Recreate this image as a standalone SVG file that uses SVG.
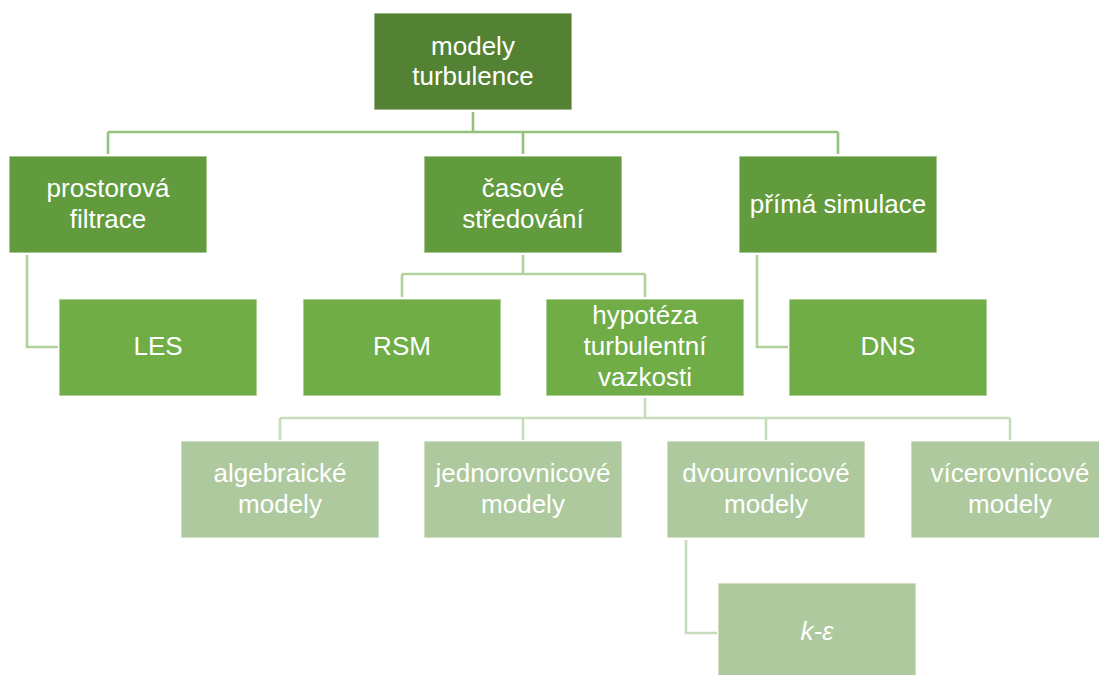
<svg xmlns="http://www.w3.org/2000/svg" width="1099" height="675" viewBox="0 0 1099 675">
<style>
.box{stroke:#ffffff;stroke-opacity:0.7;stroke-width:1.2}
.l1{fill:#548235}
.l2{fill:#629b3d}
.l3{fill:#70ad47}
.l4{fill:#adc99d}
text{font-family:"Liberation Sans",Arial,sans-serif;font-size:26px;fill:#ffffff;text-anchor:middle}
.c1{fill:none;stroke:#93c37a;stroke-width:2.6}
.c2{fill:none;stroke:#b0d29e;stroke-width:2.6}
.c3{fill:none;stroke:#c7dcba;stroke-width:2.6}
</style>
<g id="connectors">
<path class="c1" d="M473,112 V132 M108,132 H838 M108,132 V154 M523,132 V154 M838,132 V154"/>
<path class="c2" d="M27,255 V347 H58"/>
<path class="c2" d="M523,255 V274 M402,274 H645 M402,274 V297 M645,274 V297"/>
<path class="c2" d="M757,255 V347 H788"/>
<path class="c3" d="M645,398 V418 M280,418 H1010 M280,418 V440 M523,418 V440 M766,418 V440 M1010,418 V440"/>
<path class="c3" d="M686,540 V633 H717"/>
</g>
<g id="root"><rect class="box l1" x="374" y="13" width="198" height="97"/><text x="473" y="55">modely</text><text x="473" y="85">turbulence</text></g>
<g id="prostorova"><rect class="box l2" x="9" y="156" width="198" height="97"/><text x="108" y="197">prostorová</text><text x="108" y="228">filtrace</text></g>
<g id="casove"><rect class="box l2" x="424" y="156" width="198" height="97"/><text x="523" y="197">časové</text><text x="523" y="228">středování</text></g>
<g id="prima"><rect class="box l2" x="739" y="156" width="198" height="97"/><text x="838" y="213">přímá simulace</text></g>
<g id="les"><rect class="box l3" x="59" y="299" width="198" height="97"/><text x="158" y="355">LES</text></g>
<g id="rsm"><rect class="box l3" x="303" y="299" width="198" height="97"/><text x="402" y="355">RSM</text></g>
<g id="hypoteza"><rect class="box l3" x="546" y="299" width="198" height="97"/><text x="645" y="324">hypotéza</text><text x="645" y="355">turbulentní</text><text x="645" y="386">vazkosti</text></g>
<g id="dns"><rect class="box l3" x="789" y="299" width="198" height="97"/><text x="888" y="355">DNS</text></g>
<g id="algebraicke"><rect class="box l4" x="181" y="441" width="198" height="97"/><text x="280" y="482">algebraické</text><text x="280" y="513">modely</text></g>
<g id="jednorovnicove"><rect class="box l4" x="424" y="441" width="198" height="97"/><text x="523" y="482">jednorovnicové</text><text x="523" y="513">modely</text></g>
<g id="dvourovnicove"><rect class="box l4" x="667" y="441" width="198" height="97"/><text x="766" y="482">dvourovnicové</text><text x="766" y="513">modely</text></g>
<g id="vicerovnicove"><rect class="box l4" x="911" y="441" width="198" height="97"/><text x="1010" y="482">vícerovnicové</text><text x="1010" y="513">modely</text></g>
<g id="k-epsilon"><rect class="box l4" x="718" y="583" width="198" height="97"/><text x="817" y="640" font-style="italic">k-ε</text></g>
</svg>
